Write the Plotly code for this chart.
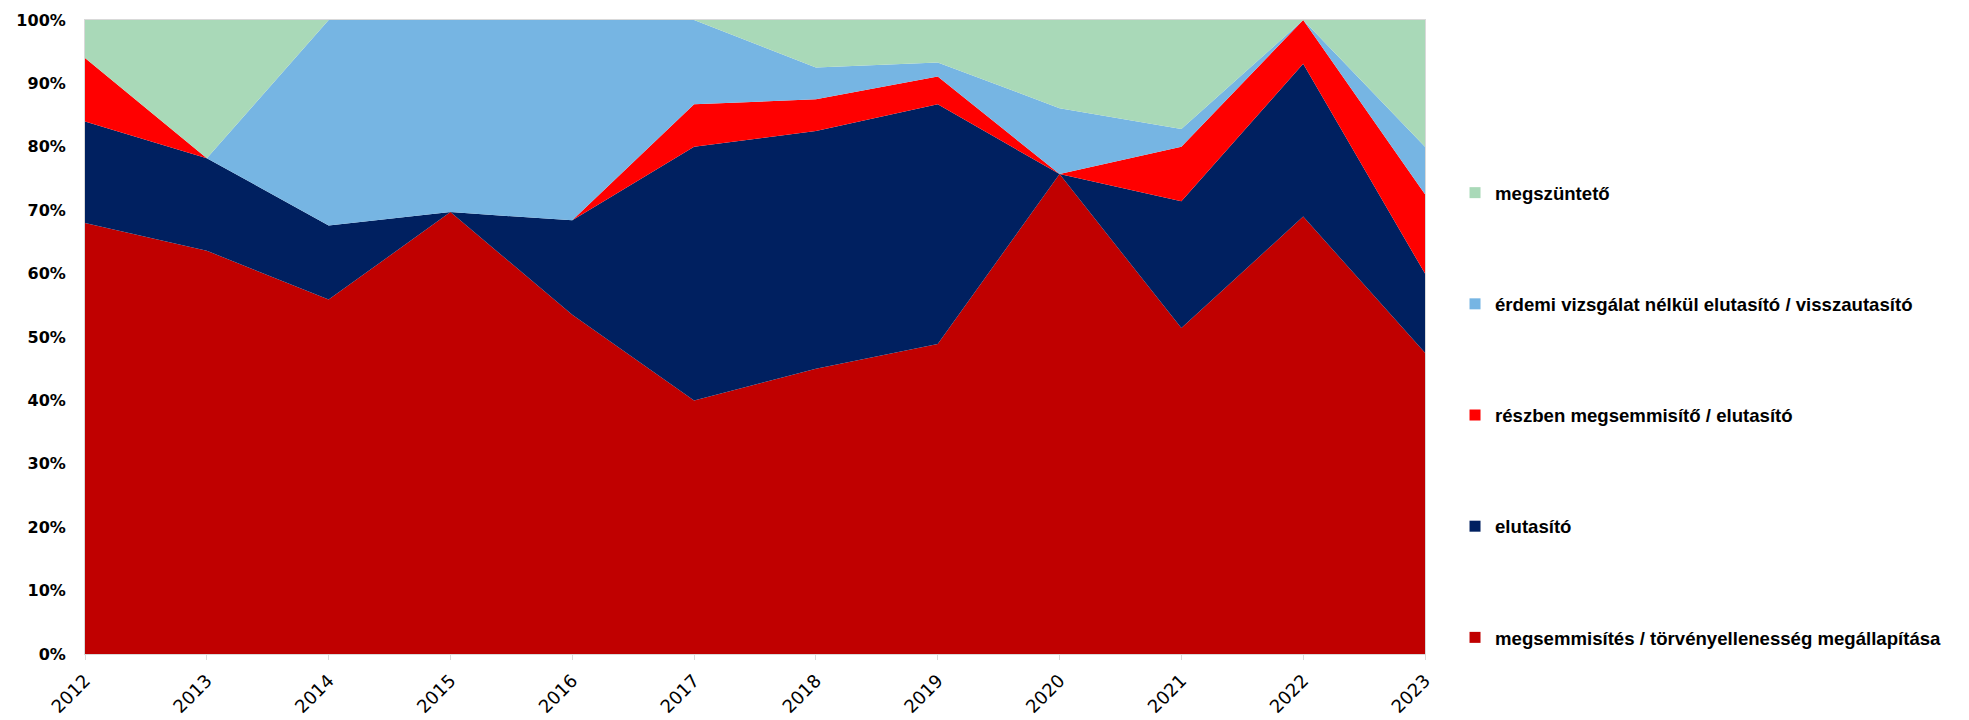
import plotly.graph_objects as go

years = [2012, 2013, 2014, 2015, 2016, 2017, 2018, 2019, 2020, 2021, 2022, 2023]

megsemmisites = [68.0, 63.6, 55.9, 69.7, 53.5, 40.0, 45.0, 48.9, 75.7, 51.4, 69.0, 47.5]
elutasito     = [16.0, 14.6, 11.7, 0.0, 14.9, 40.0, 37.5, 37.8, 0.0, 20.0, 24.1, 12.5]
reszben       = [10.0, 0.0, 0.0, 0.0, 0.0, 6.7, 5.0, 4.4, 0.0, 8.6, 6.9, 12.5]
erdemi        = [0.0, 0.0, 32.4, 30.3, 31.6, 13.3, 5.0, 2.2, 10.4, 2.8, 0.0, 7.5]
megszunteto   = [6.0, 21.8, 0.0, 0.0, 0.0, 0.0, 7.5, 6.7, 13.9, 17.2, 0.0, 20.0]

series_names = [
    "megsemmisítés / törvényellenesség megállapítása",
    "elutasító",
    "részben megsemmisítő / elutasító",
    "érdemi vizsgálat nélkül elutasító / visszautasító",
    "megszüntető",
]
series_values = [megsemmisites, elutasito, reszben, erdemi, megszunteto]
colors = ["#C00000", "#002060", "#FF0000", "#76B5E3", "#A9D9B8"]

fig = go.Figure()
for name, vals, col in zip(series_names, series_values, colors):
    fig.add_trace(go.Scatter(
        x=years, y=vals, name=name, mode="lines",
        stackgroup="one", groupnorm="percent",
        line=dict(width=0, color=col), fillcolor=col,
        showlegend=False, hoverinfo="skip",
    ))

# legend entries with square swatches, top to bottom: megszüntető ... megsemmisítés
order = list(range(len(series_names)))[::-1]
for rank, i in enumerate(order):
    fig.add_trace(go.Scatter(
        x=[None], y=[None], name=series_names[i], mode="markers",
        marker=dict(symbol="square", size=11, color=colors[i]),
        legendgroup="g%d" % rank, showlegend=True,
    ))

fig.update_layout(
    width=1969, height=720,
    margin=dict(l=77, r=552, t=12, b=74),
    plot_bgcolor="white", paper_bgcolor="white",
    font=dict(family="Liberation Sans", color="black"),
    legend=dict(
        x=1.0224, xanchor="left", y=0.757, yanchor="top",
        traceorder="grouped", tracegroupgap=84,
        font=dict(size=18.6, family="Liberation Sans", color="black", weight="bold"),
        itemwidth=30, bgcolor="rgba(0,0,0,0)",
    ),
    xaxis=dict(
        range=[2012, 2023], tickmode="array", tickvals=years,
        ticktext=[str(y) for y in years], tickangle=-45,
        tickfont=dict(size=18, family="DejaVu Sans", color="black"),
        showgrid=False, zeroline=False,
        showline=True, linecolor="#D9D9D9", linewidth=1, mirror=True,
        ticks="outside", ticklen=5, tickcolor="#D9D9D9",
        ticklabelstandoff=3, automargin=False,
    ),
    yaxis=dict(
        range=[0, 100], tickmode="array", tickvals=list(range(0, 101, 10)),
        ticktext=["%d%%" % v for v in range(0, 101, 10)],
        tickfont=dict(size=16, family="DejaVu Sans", color="black", weight="bold"),
        showgrid=False, zeroline=False,
        showline=True, linecolor="#D9D9D9", linewidth=1, mirror=True,
        ticks="", ticklabelstandoff=15, automargin=False,
    ),
)

fig.write_html("out.html")
